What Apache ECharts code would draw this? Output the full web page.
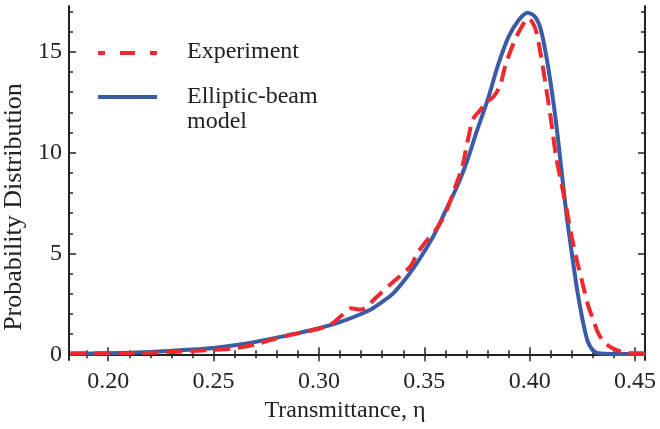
<!DOCTYPE html>
<html>
<head>
<meta charset="utf-8">
<script src="https://cdn.jsdelivr.net/npm/echarts@6/dist/echarts.min.js"></script>
<style>
  html, body { margin: 0; padding: 0; background: #fff; }
  #chart { width: 660px; height: 429px; }
</style>
</head>
<body>
<div id="chart"></div>
<script>
// elliptic-beam model curve
var modelX = [0.182,0.20,0.22,0.24,0.25,0.26,0.27,0.28,0.29,0.30,0.31,0.32,0.325,0.33,0.335,0.34,0.345,0.35,0.355,0.36,0.365,0.37,0.375,0.38,0.385,0.39,0.395,0.399,0.4025,0.405,0.4075,0.41,0.4125,0.415,0.4175,0.42,0.4225,0.425,0.4275,0.43,0.4325,0.44,0.455];
var modelY = [0.03,0.05,0.12,0.24,0.32,0.45,0.62,0.83,1.05,1.3,1.6,2.0,2.25,2.6,3.0,3.6,4.3,5.1,6.0,7.1,8.2,9.5,11.1,12.6,14.35,15.75,16.6,16.94,16.74,16.2,15.0,13.4,11.5,9.2,6.9,5.0,3.2,1.75,0.65,0.2,0.05,0.02,0.02];

// experiment curve
var expX = [0.182,0.20,0.22,0.24,0.25,0.26,0.27,0.28,0.288,0.296,0.305,0.31,0.315,0.32,0.3275,0.3353,0.3433,0.3464,0.35,0.355,0.36,0.365,0.368,0.371,0.3733,0.3765,0.3788,0.3828,0.386,0.3883,0.3923,0.3962,0.3993,0.4025,0.405,0.4075,0.41,0.4125,0.415,0.4175,0.42,0.4225,0.425,0.4275,0.43,0.4325,0.435,0.438,0.442,0.446,0.455];
var expY = [0.05,0.05,0.08,0.16,0.22,0.3,0.5,0.8,1.0,1.17,1.45,1.85,2.28,2.22,2.86,3.6,4.35,4.95,5.5,6.1,7.0,8.4,9.3,10.8,11.7,12.1,12.44,12.77,13.35,14.26,15.42,16.24,16.66,16.2,15.0,13.4,11.7,9.8,8.5,7.2,5.8,4.6,3.55,2.5,1.75,1.05,0.65,0.38,0.18,0.08,0.05];

var xMajor = [0.20,0.25,0.30,0.35,0.40,0.45];
var xMinor = [0.19,0.21,0.22,0.23,0.24,0.26,0.27,0.28,0.29,0.31,0.32,0.33,0.34,0.36,0.37,0.38,0.39,0.41,0.42,0.43,0.44];
var yMajor = [0,5,10,15];
var yMinor = [1,2,3,4,6,7,8,9,11,12,13,14,16,17];

var chart = echarts.init(document.getElementById('chart'));

function pairs(xs, ys) {
  var out = [];
  for (var i = 0; i < xs.length; i++) out.push([xs[i], ys[i]]);
  return out;
}

var font = 'Liberation Serif';
var red = '#ee2a2e';
var blue = '#3b5ba6';
var frame = {show: true, lineStyle: {color: '#222', width: 2}};

function xAx(pos, ticks, len, labels, line) {
  return {
    type: 'value', position: pos, min: 0.1814, max: 0.4547,
    splitLine: {show: false},
    axisLine: line ? frame : {show: false},
    axisTick: {show: true, inside: true, length: len, customValues: ticks,
               lineStyle: {color: '#222', width: 1.5}},
    axisLabel: labels ? {show: true, customValues: ticks, margin: 10,
      fontFamily: font, fontSize: 24, color: '#222',
      formatter: function (v) { return v.toFixed(2); }} : {show: false}
  };
}
function yAx(pos, ticks, len, labels, line) {
  return {
    type: 'value', position: pos, min: -0.28, max: 17.27,
    splitLine: {show: false},
    axisLine: line ? frame : {show: false},
    axisTick: {show: true, inside: true, length: len, customValues: ticks,
               lineStyle: {color: '#222', width: 1.5}},
    axisLabel: labels ? {show: true, customValues: ticks, margin: 7,
      fontFamily: font, fontSize: 24, color: '#222'} : {show: false}
  };
}

var xAxes = [
  xAx('bottom', xMajor, 7, true, true),
  xAx('bottom', xMinor, 4, false, false),
  xAx('top', xMajor, 7, false, true),
  xAx('top', xMinor, 4, false, false)
];
xAxes[0].name = 'Transmittance, η';
xAxes[0].nameLocation = 'middle';
xAxes[0].nameGap = 39;
xAxes[0].nameTextStyle = {fontFamily: font, fontSize: 24, color: '#222', padding: [0, 24, 0, 0]};

var yAxes = [
  yAx('left', yMajor, 7, true, true),
  yAx('left', yMinor, 4, false, false),
  yAx('right', yMajor, 7, false, true),
  yAx('right', yMinor, 4, false, false)
];
yAxes[0].name = 'Probability Distribution';
yAxes[0].nameLocation = 'middle';
yAxes[0].nameGap = 38;
yAxes[0].nameTextStyle = {fontFamily: font, fontSize: 26, color: '#222', padding: [0, 48, 0, 0]};

var option = {
  animation: false,
  backgroundColor: '#fff',
  grid: {left: 69, right: 15, top: 6, bottom: 69, outerBoundsMode: 'none'},
  xAxis: xAxes,
  yAxis: yAxes,
  graphic: [
    {type: 'line', shape: {x1: 98, y1: 53, x2: 157, y2: 53},
     style: {stroke: red, lineWidth: 4, lineDash: [7, 15, 15, 15, 7, 50]}},
    {type: 'line', shape: {x1: 98, y1: 97, x2: 157, y2: 97},
     style: {stroke: blue, lineWidth: 4}},
    {type: 'text', left: 187, top: 40,
     style: {text: 'Experiment', font: '24px "Liberation Serif"', fill: '#222'}},
    {type: 'text', left: 187, top: 84,
     style: {text: 'Elliptic-beam\nmodel', font: '24px "Liberation Serif"', fill: '#222', lineHeight: 25}}
  ],
  series: [
    {
      name: 'Elliptic-beam model', type: 'line', smooth: 0.3, showSymbol: false,
      xAxisIndex: 0, yAxisIndex: 0,
      lineStyle: {color: blue, width: 4},
      data: pairs(modelX, modelY)
    },
    {
      name: 'Experiment', type: 'line', smooth: 0.3, showSymbol: false,
      xAxisIndex: 0, yAxisIndex: 0,
      lineStyle: {color: red, width: 4, type: [16, 8]},
      data: pairs(expX, expY)
    }
  ]
};
chart.setOption(option);
</script>
</body>
</html>
